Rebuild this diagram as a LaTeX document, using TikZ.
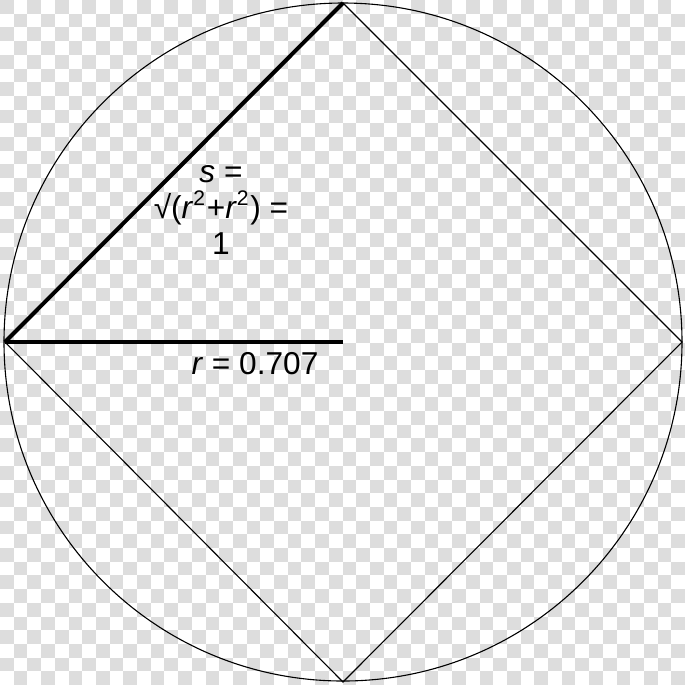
\documentclass[tikz,border=0pt]{standalone}
\usepackage{fontspec}
\setmainfont{Liberation Sans}
\usepackage{tikz}
\usetikzlibrary{positioning}
\definecolor{checkgray}{RGB}{221,221,221}
\begin{document}
\begin{tikzpicture}[x=0.01cm,y=-0.01cm,every node/.style={inner sep=0pt,font=\fontsize{9}{10.3}\selectfont},thin line/.style={line width=1.1pt*0.2845},thick line/.style={line width=4pt*0.2845}]
\useasboundingbox (0,0) rectangle (685,684);
% checkerboard background
\fill[white] (0,0) rectangle (685,684);
\foreach \i in {0,...,49}{
  \foreach \j in {0,...,49}{
    \pgfmathtruncatemacro{\parity}{mod(\i+\j,2)}
    \ifnum\parity=0
      \fill[checkgray] (\i*13.7,\j*13.7) rectangle ++(13.7,13.7);
    \fi
  }
}
  \coordinate (c) at (343,342);
  \coordinate (t) at (343,3);
  \coordinate (rt) at (682,342);
  \coordinate (b) at (343,682);
  \coordinate (l) at (5,342);
  \draw[thin line](c) circle (339);
  \draw[thin line](t)--(rt)--(b)--(l)--cycle;
  \draw[thick line](l)--(t);
  \draw[thick line](l)--(c);
  \node[align=center] (s) at (221,210){\textit{s} =\\ √(\textit{r}\textsuperscript{2}+\textit{r}\textsuperscript{2}) =\\ 1};
  \node (r) at (255,364){\textit{r} = 0.707};
\end{tikzpicture}
\end{document}
